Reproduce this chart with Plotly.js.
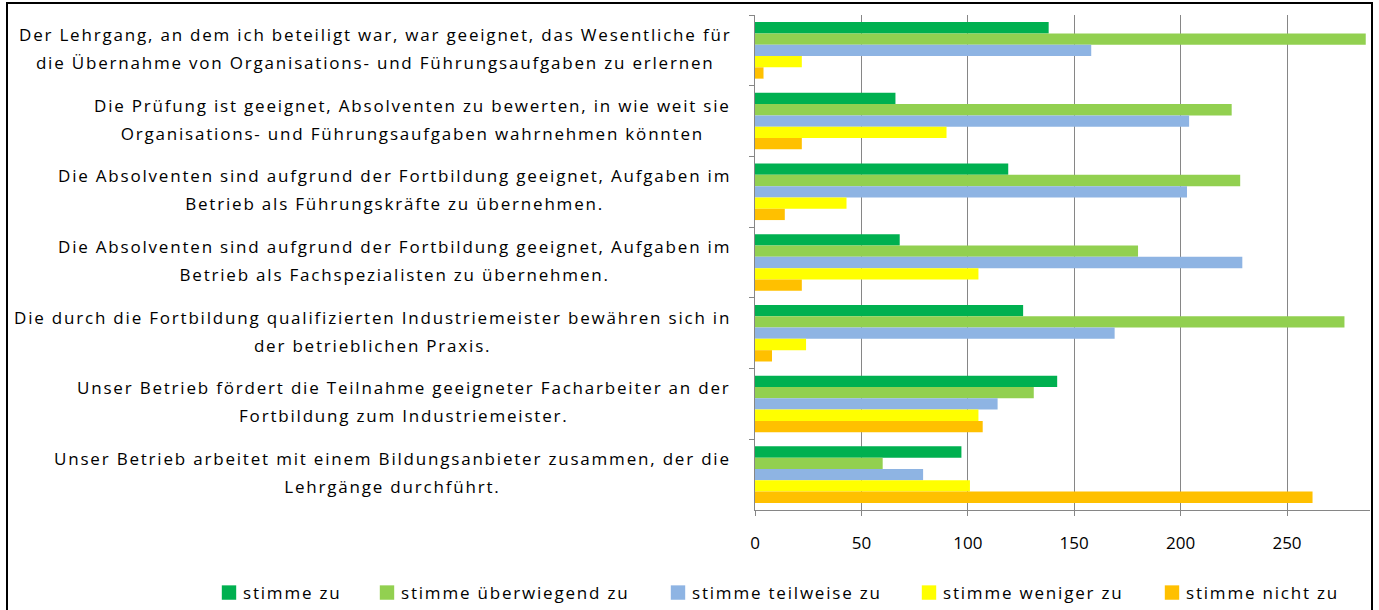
<!DOCTYPE html>
<html>
<head>
<meta charset="utf-8">
<script src="https://cdn.plot.ly/plotly-3.0.1.min.js"></script>
<style>
html,body{margin:0;padding:0;background:#fff;}
#chart{width:1379px;height:610px;}
text.annotation-text, text.legendtext { letter-spacing: 1.8px !important; }
</style>
</head>
<body>
<div id="chart"></div>
<script>
const categories = [
  "Der Lehrgang, an dem ich beteiligt war, war geeignet, das Wesentliche für<br>die Übernahme von Organisations- und Führungsaufgaben zu erlernen",
  "Die Prüfung ist geeignet, Absolventen zu bewerten, in wie weit sie<br>Organisations- und Führungsaufgaben wahrnehmen könnten",
  "Die Absolventen sind aufgrund der Fortbildung geeignet, Aufgaben im<br>Betrieb als Führungskräfte zu übernehmen.",
  "Die Absolventen sind aufgrund der Fortbildung geeignet, Aufgaben im<br>Betrieb als Fachspezialisten zu übernehmen.",
  "Die durch die Fortbildung qualifizierten Industriemeister bewähren sich in<br>der betrieblichen Praxis.",
  "Unser Betrieb fördert die Teilnahme geeigneter Facharbeiter an der<br>Fortbildung zum Industriemeister.",
  "Unser Betrieb arbeitet mit einem Bildungsanbieter zusammen, der die<br>Lehrgänge durchführt."
];
const seriesNames = ["stimme zu", "stimme überwiegend zu", "stimme teilweise zu", "stimme weniger zu", "stimme nicht zu"];
const stimmeZu            = [138, 66, 119, 68, 126, 142, 97];
const stimmeUeberwiegend  = [287, 224, 228, 180, 277, 131, 60];
const stimmeTeilweise     = [158, 204, 203, 229, 169, 114, 79];
const stimmeWeniger       = [22, 90, 43, 105, 24, 105, 101];
const stimmeNicht         = [4, 22, 14, 22, 8, 107, 262];
const xTicks = [0, 50, 100, 150, 200, 250];

const colors = ["#00B050", "#92D050", "#8EB4E3", "#FFFF00", "#FFC000"];
const seriesValues = [stimmeZu, stimmeUeberwiegend, stimmeTeilweise, stimmeWeniger, stimmeNicht];
// left edge (px) of each legend entry box
const legendLeft = [209, 367, 658, 909, 1152];

const FONT = "'Open Sans', Lato, sans-serif";
const W = 1379, H = 610;

const legendIds = ["legend", "legend2", "legend3", "legend4", "legend5"];

const traces = seriesValues.map((vals, i) => ({
  type: "bar",
  orientation: "h",
  name: seriesNames[i],
  x: vals,
  y: categories,
  marker: {color: colors[i]},
  legend: legendIds[i],
  hoverinfo: "x+name"
}));

const annotations = categories.map(c => ({
  x: 0, xref: "paper", xanchor: "right", xshift: -22,
  y: c, yref: "y", yanchor: "middle", yshift: 2,
  text: c, align: "center", showarrow: false,
  font: {family: FONT, size: 17, color: "#000"}
}));

const layout = {
  width: W, height: H,
  margin: {l: 755, r: 9, t: 15, b: 100},
  paper_bgcolor: "#fff", plot_bgcolor: "#fff",
  font: {family: FONT, size: 17, color: "#000"},
  barmode: "group", bargap: 0.2, bargroupgap: 0,
  xaxis: {
    range: [0, 289], tickvals: xTicks, ticktext: xTicks.map(String),
    showgrid: true, gridcolor: "#868686", gridwidth: 1,
    showline: true, linecolor: "#868686", linewidth: 1,
    ticks: "outside", ticklen: 5, tickcolor: "#868686",
    ticklabelstandoff: 13,
    zeroline: false, tickfont: {family: FONT, size: 17, color: "#000"}
  },
  yaxis: {
    type: "category", autorange: "reversed",
    showticklabels: false, showgrid: false,
    showline: true, linecolor: "#868686", linewidth: 1,
    ticks: "outside", tickson: "boundaries", ticklen: 5, tickcolor: "#868686",
    zeroline: false
  },
  showlegend: true,
  annotations: annotations,
  shapes: [{
    type: "rect", xref: "paper", yref: "paper",
    x0: (7 - 755) / 615, x1: (1372 - 755) / 615,
    y0: (510 - 620) / 495, y1: (510 - 3) / 495,
    line: {color: "#000", width: 2}, fillcolor: "rgba(0,0,0,0)"
  }]
};
legendIds.forEach((id, i) => {
  layout[id] = {
    orientation: "h", xref: "container", yref: "container",
    x: legendLeft[i] / W, xanchor: "left",
    y: (H - 593) / H, yanchor: "middle",
    font: {family: FONT, size: 17, color: "#000"},
    bgcolor: "rgba(0,0,0,0)"
  };
});

function polish(gd) {
  // wider line spacing for the two-line category labels (Excel-like)
  const LS = 1.7;
  gd.querySelectorAll("text.annotation-text").forEach(t => {
    if (t.dataset.done) return;
    t.dataset.done = "1";
    let added = 0;
    t.querySelectorAll("tspan.line").forEach(ts => {
      const dy = ts.getAttribute("dy");
      if (dy && /em$/.test(dy)) {
        const v = parseFloat(dy);
        if (v > 0) {
          ts.setAttribute("dy", (v * LS / 1.3) + "em");
          added += v * (LS / 1.3 - 1) * 17;
        }
      }
    });
    if (added) {
      const tr = t.getAttribute("transform") || "";
      t.setAttribute("transform", tr + " translate(0," + (-added / 2) + ")");
    }
  });
  // legend texts: consistent letter spacing and tighter swatch-text gap
  gd.querySelectorAll("text").forEach(t => {
    if (t.dataset.done) return;
    if (seriesNames.indexOf(t.textContent.trim()) >= 0) {
      t.dataset.done = "1";
      t.style.letterSpacing = "1.8px";
      const tr = t.getAttribute("transform") || "";
      t.setAttribute("transform", tr + " translate(-6,0)");
      // make sure the legend box does not clip the widened text
      let el = t.parentNode;
      while (el && el !== gd) {
        if (el.removeAttribute) el.removeAttribute("clip-path");
        if (el.style) el.style.clipPath = "none";
        el = el.parentNode;
      }
    }
  });
  gd.querySelectorAll("g.legendpoints path").forEach(p => {
    if (p.dataset.done) return;
    p.dataset.done = "1";
    const tr = p.getAttribute("transform") || "";
    p.setAttribute("transform", tr + " scale(1.2)");
  });
}

Plotly.newPlot("chart", traces, layout, {displayModeBar: false, staticPlot: true}).then(gd => {
  polish(gd);
  setTimeout(() => polish(gd), 50);
  setTimeout(() => polish(gd), 300);
});
</script>
</body>
</html>
